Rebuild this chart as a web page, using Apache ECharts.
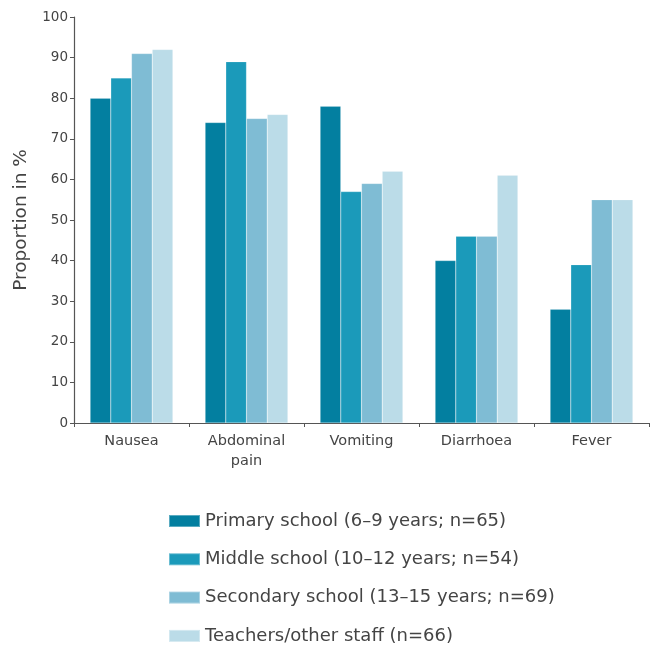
<!DOCTYPE html>
<html><head><meta charset="utf-8">
<script src="https://cdn.jsdelivr.net/npm/echarts@6/dist/echarts.min.js"></script>
<style>html,body{margin:0;padding:0;background:#fff}#c{width:655px;height:648px}</style>
</head><body><div id="c"></div>
<script>
const categories = ["Nausea", "Abdominal\npain", "Vomiting", "Diarrhoea", "Fever"];
const seriesNames = ["Primary school (6–9 years; n=65)", "Middle school (10–12 years; n=54)", "Secondary school (13–15 years; n=69)", "Teachers/other staff (n=66)"];
const primary = [80, 74, 78, 40, 28];
const middle = [85, 89, 57, 46, 39];
const secondary = [91, 75, 59, 46, 55];
const teachers = [92, 76, 62, 61, 55];
const colors = ["#037fa0", "#1b9aba", "#7fbcd4", "#bbdce8"];
const font = "DejaVu Sans";
const chart = echarts.init(document.getElementById('c'));
const vals = [primary, middle, secondary, teachers];
chart.setOption({
  animation: false,
  textStyle: {fontFamily: font},
  grid: {left: 74, right: 6, top: 17, bottom: 225, containLabel: false},
  legend: {
    orient: 'vertical', left: 168, top: 511, padding: 0, itemWidth: 31, itemHeight: 12, itemGap: 18.3,
    icon: 'rect',
    textStyle: {fontSize: 18, lineHeight: 20, color: '#444', fontFamily: font},
    data: seriesNames
  },
  xAxis: {
    type: 'category', data: categories,
    axisLine: {lineStyle: {color: '#555', width: 1.2}},
    axisTick: {show: true, length: 4, alignWithLabel: false, lineStyle: {color: '#555'}},
    axisLabel: {fontSize: 14.5, color: '#444', margin: 8, lineHeight: 20, interval: 0}
  },
  yAxis: {
    type: 'value', min: 0, max: 100, interval: 10,
    name: 'Proportion in %', nameLocation: 'middle', nameGap: 43, nameRotate: 90,
    nameTextStyle: {fontSize: 18.5, color: '#444'},
    axisLine: {show: true, lineStyle: {color: '#555', width: 1.2}},
    axisTick: {show: true, length: 4, lineStyle: {color: '#555'}},
    axisLabel: {fontSize: 13.5, color: '#444', margin: 6},
    splitLine: {show: false}
  },
  series: seriesNames.map((n, i) => ({
    name: n, type: 'bar', data: vals[i], barGap: '0%', barCategoryGap: '28%',
    itemStyle: {color: colors[i], borderColor: 'rgba(255,255,255,0.35)', borderWidth: 0.5}
  }))
});
</script></body></html>
